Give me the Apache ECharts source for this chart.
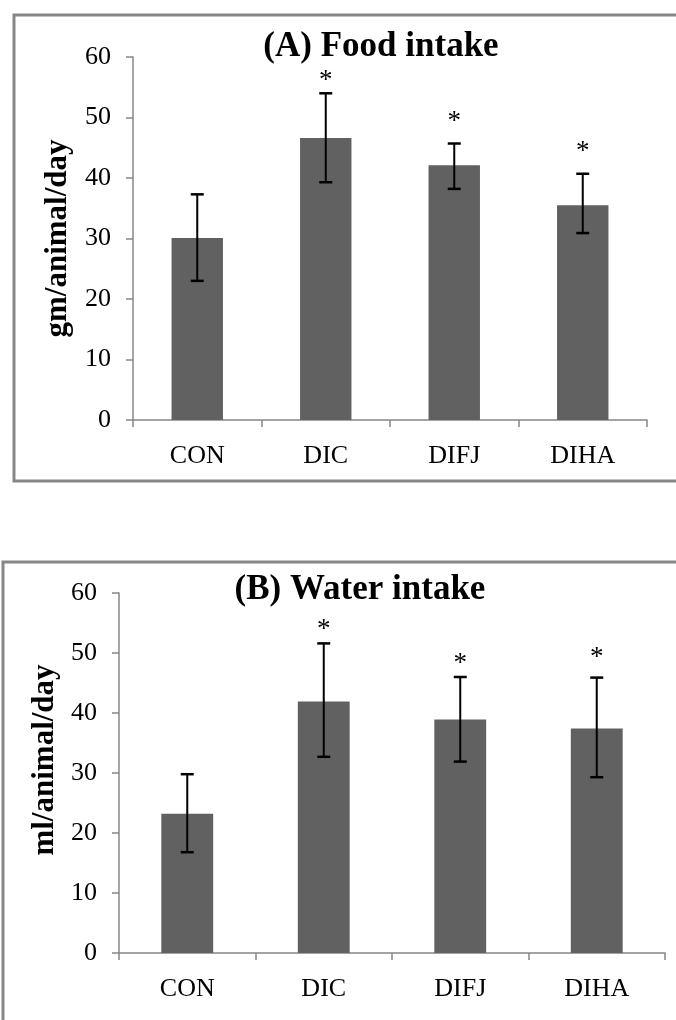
<!DOCTYPE html>
<html>
<head>
<meta charset="utf-8">
<script src="https://cdn.jsdelivr.net/npm/echarts@6/dist/echarts.min.js"></script>
<style>
  html, body { margin: 0; padding: 0; background: #fff; }
  #main { width: 676px; height: 1020px; }
</style>
</head>
<body>
<div id="main"></div>
<script>
// data
const categories = ['CON', 'DIC', 'DIFJ', 'DIHA'];

const foodMean = [30.1, 46.6, 42.1, 35.5];
const foodLow  = [23.0, 39.3, 38.2, 30.9];
const foodHigh = [37.3, 54.0, 45.7, 40.7];
const foodStar = [null, 57.2, 50.4, 45.4];

const waterMean = [23.2, 41.9, 38.9, 37.4];
const waterLow  = [16.8, 32.7, 31.9, 29.3];
const waterHigh = [29.8, 51.6, 46.0, 45.9];
const waterStar = [null, 55.0, 49.4, 50.3];

const yMin = 0, yMax = 60, yStep = 10;

const FONT = '"Liberation Serif", "Times New Roman", serif';
const AXIS_GREY = '#878787';
const BAR_GREY = '#616161';

const chart = echarts.init(document.getElementById('main'));

// error bars: stem + two caps
function errRender(params, api) {
    const i = api.value(0);
    const lo = api.coord([i, api.value(1)]);
    const hi = api.coord([i, api.value(2)]);
    const w = 6.5;
    const st = {stroke: '#000', lineWidth: 2};
    return {
        type: 'group',
        children: [
            {type: 'line', shape: {x1: lo[0], y1: lo[1], x2: hi[0], y2: hi[1]}, style: st},
            {type: 'line', shape: {x1: hi[0] - w, y1: hi[1], x2: hi[0] + w, y2: hi[1]}, style: {stroke: '#000', lineWidth: 2.5}},
            {type: 'line', shape: {x1: lo[0] - w, y1: lo[1], x2: lo[0] + w, y2: lo[1]}, style: {stroke: '#000', lineWidth: 2.5}}
        ]
    };
}

// significance asterisks
function starRender(params, api) {
    const v = api.value(1);
    if (v == null || isNaN(v)) return null;
    const p = api.coord([api.value(0), v]);
    return {
        type: 'text',
        x: p[0], y: p[1] + 7,
        style: {text: '*', fill: '#000', font: '27px ' + FONT, align: 'center', verticalAlign: 'middle'}
    };
}

function errData(lo, hi) {
    return lo.map((v, i) => [i, v, hi[i]]);
}
function starData(s) {
    return s.map((v, i) => [i, v]);
}

function xAxisFor(idx) {
    return {
        type: 'category',
        gridIndex: idx,
        data: categories,
        axisLine: {lineStyle: {color: AXIS_GREY, width: 1.5}},
        axisTick: {show: true, length: 7, lineStyle: {color: AXIS_GREY, width: 1.5}},
        axisLabel: {color: '#000', fontFamily: FONT, fontSize: 26, margin: 23},
        splitLine: {show: false}
    };
}
function yAxisFor(idx, name, gap, pad) {
    return {
        type: 'value',
        gridIndex: idx,
        min: yMin, max: yMax, interval: yStep,
        name: name,
        nameLocation: 'middle',
        nameGap: gap,
        nameTextStyle: {color: '#000', fontFamily: FONT, fontWeight: 'bold', fontSize: 31, padding: pad},
        axisLine: {show: true, lineStyle: {color: AXIS_GREY, width: 1.5}},
        axisTick: {show: true, length: 7, lineStyle: {color: AXIS_GREY, width: 1.5}},
        axisLabel: {color: '#000', fontFamily: FONT, fontSize: 26, margin: 22},
        splitLine: {show: false}
    };
}

const option = {
    backgroundColor: '#fff',
    animation: false,
    title: [
        {
            text: '(A) Food intake', left: 381, top: 29, textAlign: 'center', padding: 0,
            textStyle: {fontFamily: FONT, fontWeight: 'bold', fontSize: 35, color: '#000'}
        },
        {
            text: '(B) Water intake', left: 360, top: 572, textAlign: 'center', padding: 0,
            textStyle: {fontFamily: FONT, fontWeight: 'bold', fontSize: 35, color: '#000'}
        }
    ],
    graphic: [
        {type: 'rect', shape: {x: 14, y: 15, width: 680, height: 466}, style: {fill: 'none', stroke: AXIS_GREY, lineWidth: 3}, z: -1},
        {type: 'rect', shape: {x: 3, y: 562, width: 690, height: 480}, style: {fill: 'none', stroke: AXIS_GREY, lineWidth: 3}, z: -1}
    ],
    grid: [
        {left: 133, top: 57, width: 514, height: 363},
        {left: 119, top: 593, width: 546, height: 360}
    ],
    xAxis: [xAxisFor(0), xAxisFor(1)],
    yAxis: [
        yAxisFor(0, 'gm/animal/day', 60, 0),
        yAxisFor(1, 'ml/animal/day', 57, [0, 0, 0, 26])
    ],
    series: [
        {type: 'bar', xAxisIndex: 0, yAxisIndex: 0, data: foodMean, barWidth: '40%', itemStyle: {color: BAR_GREY}},
        {type: 'custom', xAxisIndex: 0, yAxisIndex: 0, data: errData(foodLow, foodHigh), renderItem: errRender, z: 3},
        {type: 'custom', xAxisIndex: 0, yAxisIndex: 0, data: starData(foodStar), renderItem: starRender, z: 3},
        {type: 'bar', xAxisIndex: 1, yAxisIndex: 1, data: waterMean, barWidth: '38%', itemStyle: {color: BAR_GREY}},
        {type: 'custom', xAxisIndex: 1, yAxisIndex: 1, data: errData(waterLow, waterHigh), renderItem: errRender, z: 3},
        {type: 'custom', xAxisIndex: 1, yAxisIndex: 1, data: starData(waterStar), renderItem: starRender, z: 3}
    ]
};

chart.setOption(option);
</script>
</body>
</html>
